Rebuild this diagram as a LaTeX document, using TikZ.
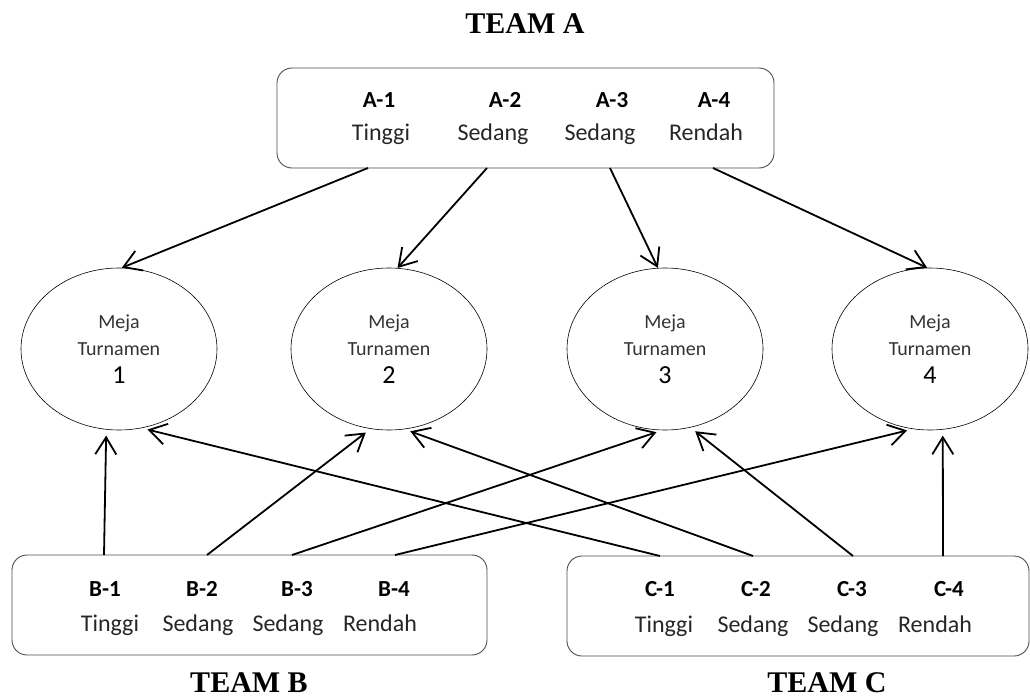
\documentclass[tikz,border=0pt]{standalone}
\usepackage{fontspec}
\setmainfont{Carlito}
\newfontfamily\teamfont{Liberation Serif}
\usetikzlibrary{shapes.geometric, positioning, arrows.meta}

\begin{document}
\begin{tikzpicture}[x=1pt,y=-1pt,on grid,
    >={Straight Barb[length=17pt,width=21pt]},
    team/.style={font=\teamfont\bfseries\fontsize{30}{30}\selectfont, inner sep=0pt, anchor=base},
    teambox/.style={draw=black!70, line width=0.9pt, rounded corners=15pt, minimum height=100pt, inner sep=0pt},
    member/.style={font=\bfseries\fontsize{23}{23}\selectfont, inner sep=0pt, anchor=base},
    grade/.style={font=\fontsize{24}{24}\selectfont, text=black!85, inner sep=0pt, anchor=base},
    meja/.style={ellipse, draw, line width=0.6pt, minimum width=196pt, minimum height=162pt, inner sep=0pt, align=center, font=\fontsize{20}{27}\selectfont, text=black!80},
    link/.style={line width=1.8pt}]
  \useasboundingbox (0,0) rectangle (1030,698);

  % team A
  \node[team] (team_a) at (525,34) {TEAM A};
  \node[teambox, minimum width=497pt] (box_a) at (525.5,118) {};
  \node[member] (a_1) at (379,108) {A-1};
  \node[member] (a_2) at (505,108) {A-2};
  \node[member] (a_3) at (612,108) {A-3};
  \node[member] (a_4) at (714,108) {A-4};
  \node[grade] (ga_1) at (381,140) {Tinggi};
  \node[grade] (ga_2) at (493,140) {Sedang};
  \node[grade] (ga_3) at (600,140) {Sedang};
  \node[grade] (ga_4) at (706,140) {Rendah};
  \coordinate (sa_1) at (368,168);
  \coordinate (sa_2) at (487,168);
  \coordinate (sa_3) at (610,168);
  \coordinate (sa_4) at (713,168);

  % meja turnamen
  \node[meja] (m_1) at (119,349) {Meja\\Turnamen\\[1pt]{\color{black}\fontsize{26}{26}\selectfont 1}};
  \node[meja] (m_2) [right=270pt of m_1] {Meja\\Turnamen\\[1pt]{\color{black}\fontsize{26}{26}\selectfont 2}};
  \node[meja] (m_3) [right=276pt of m_2] {Meja\\Turnamen\\[1pt]{\color{black}\fontsize{26}{26}\selectfont 3}};
  \node[meja] (m_4) [right=265pt of m_3] {Meja\\Turnamen\\[1pt]{\color{black}\fontsize{26}{26}\selectfont 4}};

  % team B
  \node[teambox, minimum width=475pt] (box_b) at (249.5,605) {};
  \node[member] (b_1) at (105,596) {B-1};
  \node[member] (b_2) at (202,596) {B-2};
  \node[member] (b_3) at (297,596) {B-3};
  \node[member] (b_4) at (394,596) {B-4};
  \node[grade] (gb_1) at (110,631) {Tinggi};
  \node[grade] (gb_2) at (198,631) {Sedang};
  \node[grade] (gb_3) at (288,631) {Sedang};
  \node[grade] (gb_4) at (380,631) {Rendah};
  \node[team] (team_b) at (249,692) {TEAM B};
  \coordinate (sb_1) at (104,555);
  \coordinate (sb_2) at (207,555);
  \coordinate (sb_3) at (292,555);
  \coordinate (sb_4) at (395,555);

  % team C
  \node[teambox, minimum width=462pt] (box_c) at (798,606) {};
  \node[member] (c_1) at (660,596) {C-1};
  \node[member] (c_2) at (756,596) {C-2};
  \node[member] (c_3) at (852,596) {C-3};
  \node[member] (c_4) at (949,596) {C-4};
  \node[grade] (gc_1) at (664,632) {Tinggi};
  \node[grade] (gc_2) at (753,632) {Sedang};
  \node[grade] (gc_3) at (843,632) {Sedang};
  \node[grade] (gc_4) at (935,632) {Rendah};
  \node[team] (team_c) at (827,692) {TEAM C};
  \coordinate (sc_1) at (660,556);
  \coordinate (sc_2) at (753,556);
  \coordinate (sc_3) at (853,556);
  \coordinate (sc_4) at (943,556);

  \path[->, link]
    (sa_1) edge (m_1.88)
    (sa_2) edge (m_2.84)
    (sa_3) edge (m_3.95)
    (sa_4) edge (m_4.92);
  \path[->, link, shorten >=6pt]
    (sb_1) edge (m_1.-99)
    (sc_1) edge (m_1.-74)
    (sb_2) edge (m_2.-103)
    (sc_2) edge (m_2.-79)
    (sb_3) edge (m_3.-92)
    (sc_3) edge (m_3.-72)
    (sb_4) edge (m_4.-102)
    (sc_4) edge (m_4.-81);
\end{tikzpicture}
\end{document}
